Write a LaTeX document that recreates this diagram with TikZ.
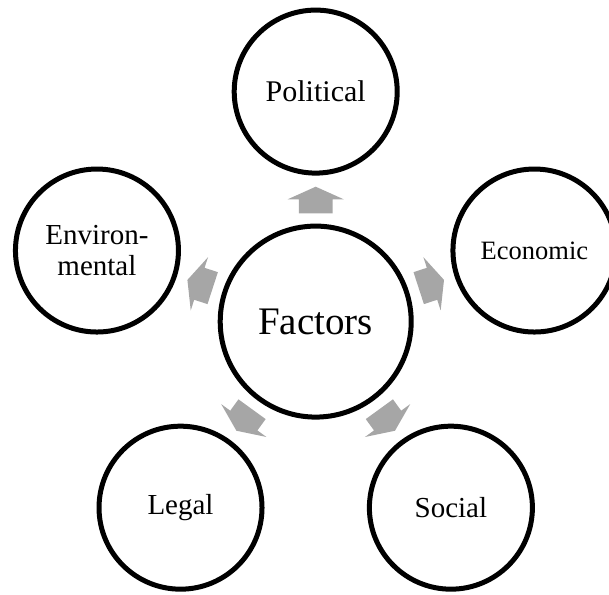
\documentclass[tikz,border=0pt]{standalone}
\usepackage{fontspec}
\setmainfont{Liberation Serif}
\usetikzlibrary{calc}
\definecolor{arrgray}{HTML}{A6A6A6}
\begin{document}
\begin{tikzpicture}[x=1pt,y=1pt,
  hub/.style={circle, draw=black, line width=5pt, fill=white, inner sep=0pt,
    minimum size=191pt, align=center, font=\fontsize{39}{41}\selectfont},
  sat/.style={circle, draw=black, line width=5pt, fill=white, inner sep=0pt,
    minimum size=163pt, align=center},
  radarrow/.pic={\fill[arrgray] (-13.3,-16.8) -- (0.7,-16.8) -- (0.7,-28) -- (13.3,0)
     -- (0.7,28) -- (0.7,16.8) -- (-13.3,16.8) -- cycle;}
]
\useasboundingbox (0,0) rectangle (609,594);
\clip (0,0) rectangle (609,594);
\node[hub] (F) at (315.7,272.4) {Factors};
\node[sat, font=\fontsize{30}{32}\selectfont] (P) at ($(F.center)+(90:230)$) {Political};
\node[sat, font=\fontsize{26.5}{28}\selectfont] (E) at ($(F.center)+(18:230)$) {Economic};
\node[sat, font=\fontsize{29}{30.5}\selectfont] (S) at ($(F.center)+(-54:230)$) {Social};
\node[sat, font=\fontsize{29}{30.5}\selectfont] (L) at ($(F.center)+(-126:230)$) {Legal};
\node[sat, font=\fontsize{29}{30.5}\selectfont] (V) at ($(F.center)+(162:230)$) {Environ-\\mental};
\pic[rotate=90] at ($(F.center)+(90:121.6)$) {radarrow};
\pic[rotate=18] at ($(F.center)+(18:121.6)$) {radarrow};
\pic[rotate=-54] at ($(F.center)+(-54:121.6)$) {radarrow};
\pic[rotate=-126] at ($(F.center)+(-126:121.6)$) {radarrow};
\pic[rotate=162] at ($(F.center)+(162:121.6)$) {radarrow};
\end{tikzpicture}
\end{document}
